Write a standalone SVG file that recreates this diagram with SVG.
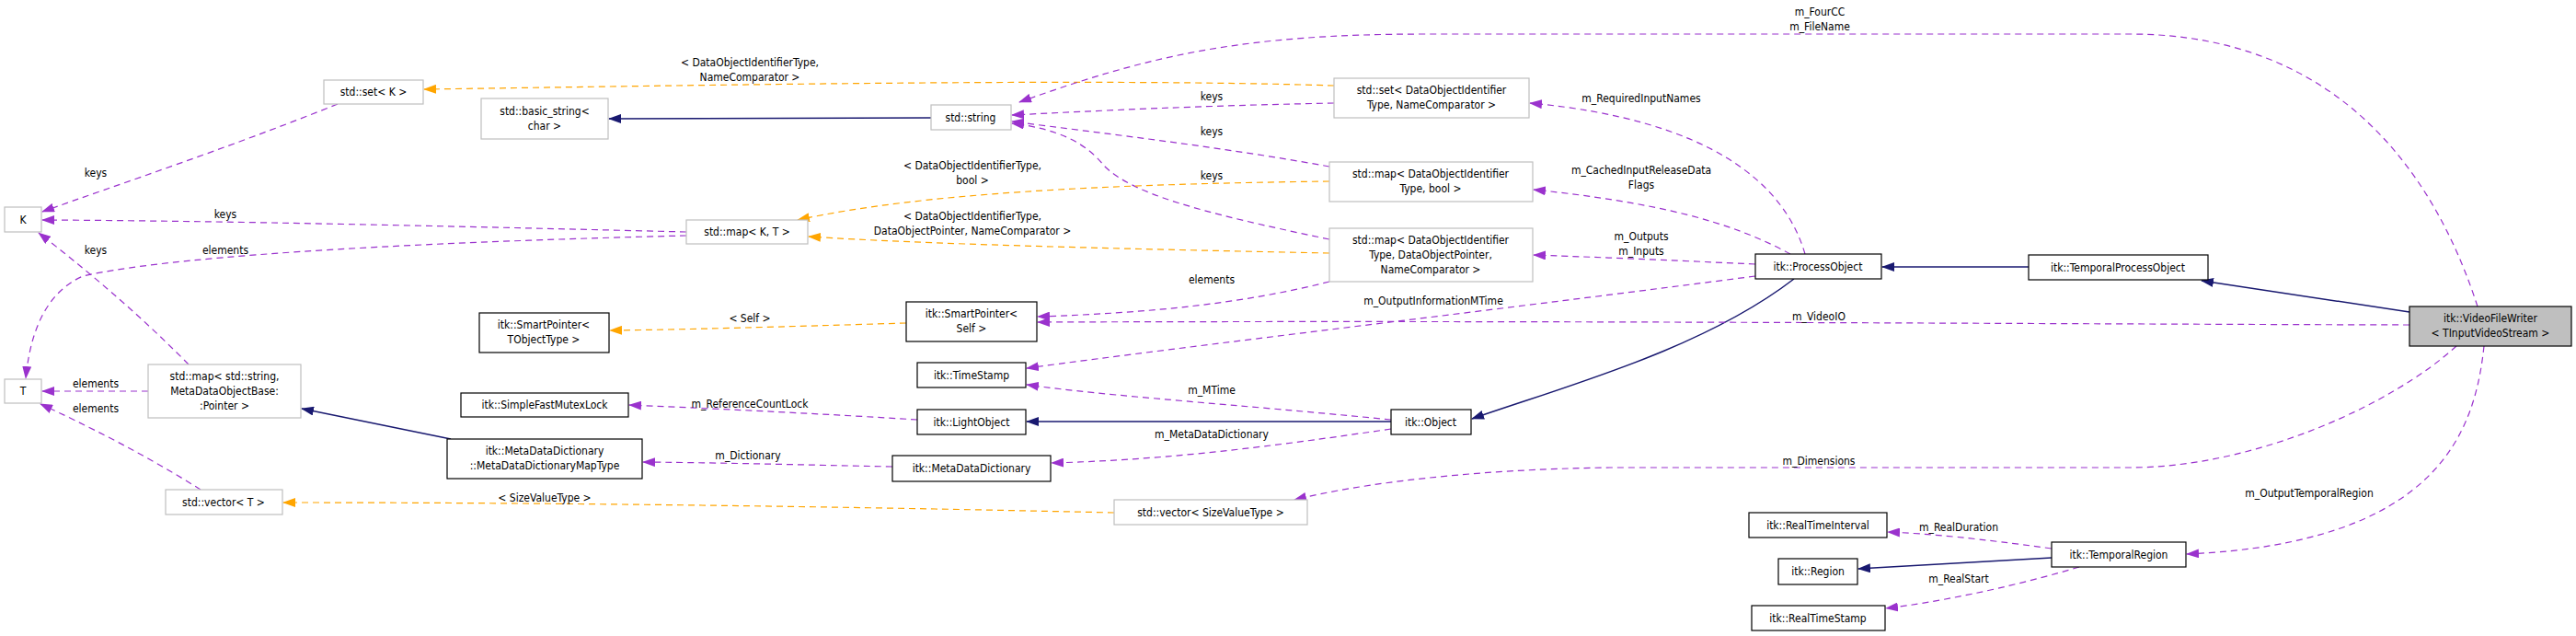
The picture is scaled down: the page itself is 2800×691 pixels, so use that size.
<svg xmlns="http://www.w3.org/2000/svg" width="2800" height="691" viewBox="0 0 2800 691">
<style>
text{font-family:"DejaVu Sans Condensed","DejaVu Sans",sans-serif;font-size:12px;fill:#000;text-anchor:middle}
.n rect{fill:#fff;stroke:#000;stroke-width:1.2}
.g rect{fill:#fff;stroke:#bfbfbf;stroke-width:1.2}
.p{fill:none;stroke:#9a32cd;stroke-dasharray:7,5;stroke-width:1.2;marker-end:url(#ap)}
.o{fill:none;stroke:#ffa500;stroke-dasharray:7,5;stroke-width:1.2;marker-end:url(#ao)}
.b{fill:none;stroke:#191970;stroke-width:1.5;marker-end:url(#ab)}
</style>
<defs>
<marker id="ap" markerWidth="14" markerHeight="10" refX="13" refY="5" orient="auto" markerUnits="userSpaceOnUse"><path d="M0,0L14,5L0,10z" fill="#9a32cd"/></marker>
<marker id="ao" markerWidth="14" markerHeight="10" refX="13" refY="5" orient="auto" markerUnits="userSpaceOnUse"><path d="M0,0L14,5L0,10z" fill="#ffa500"/></marker>
<marker id="ab" markerWidth="14" markerHeight="10" refX="13" refY="5" orient="auto" markerUnits="userSpaceOnUse"><path d="M0,0L14,5L0,10z" fill="#191970"/></marker>
</defs>
<rect width="2800" height="691" fill="#fff"/>
<g id="edges">
<path class="p" d="M367,113 C250,160 130,200 46,230"/>
<path class="p" d="M746,252 C500,246 250,240 46,239"/>
<path class="p" d="M746,256 C500,262 200,275 90,300 C45,320 32,370 28,411"/>
<path class="p" d="M205,396 C150,340 90,290 42,253"/>
<path class="p" d="M161,425 L46,425"/>
<path class="p" d="M218,532 C160,495 90,460 44,439"/>
<path class="b" d="M490,477 L328,444"/>
<path class="o" d="M1211,557 C900,550 600,546 308,546"/>
<path class="o" d="M1450,93 C1200,85 800,92 461,97"/>
<path class="b" d="M1012,128 L662,129"/>
<path class="p" d="M1450,112 C1300,115 1200,120 1100,125"/>
<path class="p" d="M1445,181 C1330,160 1200,145 1100,132"/>
<path class="p" d="M1445,260 C1300,230 1230,210 1200,180 C1180,155 1150,140 1100,134"/>
<path class="o" d="M1445,197 C1200,200 1000,210 867,239"/>
<path class="o" d="M1445,275 C1200,270 1000,265 879,257"/>
<path class="p" d="M1445,306 C1350,330 1250,340 1128,344"/>
<path class="o" d="M985,351 C850,355 750,358 663,359"/>
<path class="p" d="M1962,276 C1940,200 1860,130 1663,112"/>
<path class="p" d="M1946,276 C1880,240 1800,220 1667,206"/>
<path class="p" d="M1908,287 C1800,282 1750,280 1667,277"/>
<path class="p" d="M1908,300 C1600,340 1300,375 1116,400"/>
<path class="b" d="M1950,303 C1850,380 1700,420 1600,455"/>
<path class="b" d="M2205,290 L2046,290"/>
<path class="b" d="M2619,339 L2393,305"/>
<path class="p" d="M2693,333 C2650,200 2550,37 2315,37 L1550,37 C1350,37 1250,60 1108,111"/>
<path class="p" d="M2619,353 C2200,352 1700,348 1128,350"/>
<path class="p" d="M2670,376 C2600,440 2450,508 2315,508 L1750,508 C1600,510 1480,525 1407,543"/>
<path class="p" d="M2700,376 C2690,470 2650,590 2377,602"/>
<path class="p" d="M2230,596 C2150,585 2100,580 2052,578"/>
<path class="b" d="M2230,606 L2020,618"/>
<path class="p" d="M2260,616 C2180,640 2100,655 2050,661"/>
<path class="p" d="M1512,456 C1350,440 1200,430 1116,418"/>
<path class="b" d="M1512,458 L1116,458"/>
<path class="p" d="M1512,466 C1350,490 1250,500 1143,503"/>
<path class="p" d="M997,456 C900,450 800,445 684,440"/>
<path class="p" d="M970,507 C870,505 800,503 699,502"/>
</g>
<g id="labels">
<text x="104" y="192">keys</text>
<text x="245" y="237">keys</text>
<text x="104" y="276">keys</text>
<text x="245" y="276">elements</text>
<text x="104" y="421">elements</text>
<text x="104" y="448">elements</text>
<text x="592" y="545">&lt; SizeValueType &gt;</text>
<text x="815" y="72">&lt; DataObjectIdentifierType,</text>
<text x="815" y="88">NameComparator &gt;</text>
<text x="1317" y="109">keys</text>
<text x="1317" y="147">keys</text>
<text x="1057" y="184">&lt; DataObjectIdentifierType,</text>
<text x="1057" y="200">bool &gt;</text>
<text x="1317" y="195">keys</text>
<text x="1057" y="239">&lt; DataObjectIdentifierType,</text>
<text x="1057" y="255">DataObjectPointer, NameComparator &gt;</text>
<text x="1317" y="308">elements</text>
<text x="1558" y="331">m_OutputInformationMTime</text>
<text x="815" y="350">&lt; Self &gt;</text>
<text x="1317" y="428">m_MTime</text>
<text x="815" y="443">m_ReferenceCountLock</text>
<text x="1317" y="476">m_MetaDataDictionary</text>
<text x="813" y="499">m_Dictionary</text>
<text x="1978" y="17">m_FourCC</text>
<text x="1978" y="33">m_FileName</text>
<text x="1784" y="111">m_RequiredInputNames</text>
<text x="1784" y="189">m_CachedInputReleaseData</text>
<text x="1784" y="205">Flags</text>
<text x="1784" y="261">m_Outputs</text>
<text x="1784" y="277">m_Inputs</text>
<text x="1977" y="348">m_VideoIO</text>
<text x="1977" y="505">m_Dimensions</text>
<text x="2510" y="540">m_OutputTemporalRegion</text>
<text x="2129" y="577">m_RealDuration</text>
<text x="2129" y="633">m_RealStart</text>
</g>
<g id="n_setK" class="g"><rect x="352" y="87" width="108" height="26"/><text x="406" y="104">std::set&lt; K &gt;</text></g>
<g id="n_basicstring" class="g"><rect x="523" y="107" width="138" height="44"/><text x="592" y="125">std::basic_string&lt;</text><text x="592" y="141">char &gt;</text></g>
<g id="n_K" class="g"><rect x="5" y="225" width="40" height="27"/><text x="25" y="243">K</text></g>
<g id="n_T" class="g"><rect x="5" y="412" width="40" height="26"/><text x="25" y="429">T</text></g>
<g id="n_mapString" class="g"><rect x="161" y="396" width="166" height="58"/><text x="244" y="413">std::map&lt; std::string,</text><text x="244" y="429">MetaDataObjectBase:</text><text x="244" y="445">:Pointer &gt;</text></g>
<g id="n_vectorT" class="g"><rect x="180" y="532" width="127" height="27"/><text x="243" y="550">std::vector&lt; T &gt;</text></g>
<g id="n_spTObject" class="n"><rect x="521" y="340" width="141" height="43"/><text x="591" y="357">itk::SmartPointer&lt;</text><text x="591" y="373">TObjectType &gt;</text></g>
<g id="n_mutex" class="n"><rect x="501" y="427" width="182" height="26"/><text x="592" y="444">itk::SimpleFastMutexLock</text></g>
<g id="n_mapType" class="n"><rect x="486" y="477" width="212" height="43"/><text x="592" y="494">itk::MetaDataDictionary</text><text x="592" y="510">::MetaDataDictionaryMapType</text></g>
<g id="n_string" class="g"><rect x="1012" y="114" width="87" height="27"/><text x="1055" y="132">std::string</text></g>
<g id="n_setDOI" class="g"><rect x="1450" y="85" width="212" height="43"/><text x="1556" y="102">std::set&lt; DataObjectIdentifier</text><text x="1556" y="118">Type, NameComparator &gt;</text></g>
<g id="n_mapBool" class="g"><rect x="1445" y="176" width="221" height="43"/><text x="1555" y="193">std::map&lt; DataObjectIdentifier</text><text x="1555" y="209">Type, bool &gt;</text></g>
<g id="n_mapKT" class="g"><rect x="746" y="239" width="132" height="26"/><text x="812" y="256">std::map&lt; K, T &gt;</text></g>
<g id="n_mapDOP" class="g"><rect x="1445" y="248" width="221" height="58"/><text x="1555" y="265">std::map&lt; DataObjectIdentifier</text><text x="1555" y="281">Type, DataObjectPointer,</text><text x="1555" y="297">NameComparator &gt;</text></g>
<g id="n_spSelf" class="n"><rect x="985" y="328" width="142" height="43"/><text x="1056" y="345">itk::SmartPointer&lt;</text><text x="1056" y="361">Self &gt;</text></g>
<g id="n_timestamp" class="n"><rect x="997" y="394" width="118" height="27"/><text x="1056" y="412">itk::TimeStamp</text></g>
<g id="n_light" class="n"><rect x="997" y="445" width="118" height="27"/><text x="1056" y="463">itk::LightObject</text></g>
<g id="n_mdd" class="n"><rect x="970" y="495" width="172" height="28"/><text x="1056" y="513">itk::MetaDataDictionary</text></g>
<g id="n_vecSize" class="g"><rect x="1211" y="543" width="210" height="27"/><text x="1316" y="561">std::vector&lt; SizeValueType &gt;</text></g>
<g id="n_object" class="n"><rect x="1512" y="445" width="87" height="27"/><text x="1555" y="463">itk::Object</text></g>
<g id="n_process" class="n"><rect x="1908" y="276" width="137" height="27"/><text x="1976" y="294">itk::ProcessObject</text></g>
<g id="n_tpo" class="n"><rect x="2205" y="277" width="195" height="27"/><text x="2302" y="295">itk::TemporalProcessObject</text></g>
<g id="n_vfw"><rect x="2619" y="333" width="176" height="43" fill="#bfbfbf" stroke="#000" stroke-width="1.2"/><text x="2707" y="350">itk::VideoFileWriter</text><text x="2707" y="366">&lt; TInputVideoStream &gt;</text></g>
<g id="n_rti" class="n"><rect x="1901" y="557" width="150" height="27"/><text x="1976" y="575">itk::RealTimeInterval</text></g>
<g id="n_region" class="n"><rect x="1933" y="607" width="86" height="28"/><text x="1976" y="625">itk::Region</text></g>
<g id="n_tr" class="n"><rect x="2230" y="589" width="146" height="27"/><text x="2303" y="607">itk::TemporalRegion</text></g>
<g id="n_rts" class="n"><rect x="1904" y="658" width="145" height="27"/><text x="1976" y="676">itk::RealTimeStamp</text></g>
</svg>
